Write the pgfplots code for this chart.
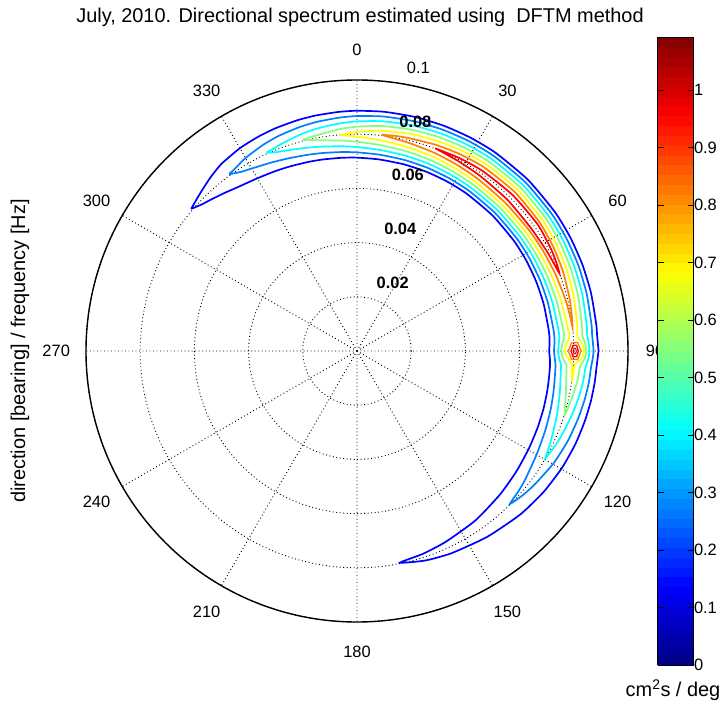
\documentclass[border=0pt]{standalone}
\usepackage{fontspec}
\setmainfont{Liberation Sans}
\usepackage{pgfplots}
\pgfplotsset{compat=1.18}
\usepgfplotslibrary{polar}
\definecolor{cA}{rgb}{0,0,1}
\definecolor{cB}{rgb}{0,0.5,1}
\definecolor{cC}{rgb}{0,1,1}
\definecolor{cD}{rgb}{0.5,1,0.5}
\definecolor{cE}{rgb}{1,1,0}
\definecolor{cF}{rgb}{1,0.5,0}
\definecolor{cG}{rgb}{1,0,0}
\definecolor{cH}{rgb}{0.85,0,0}
\newcommand\tl{\fontsize{16.5}{19}\selectfont}
\newcommand\bl{\fontsize{20}{23}\selectfont}
\pgfplotsset{cont/.style={line width=1.7bp, smooth, tension=0.35}}
\begin{document}
\begin{tikzpicture}
\path[use as bounding box] (0,0) rectangle (722bp,702bp);
\begin{polaraxis}[
  name=pa,
  at={(357bp,351bp)}, anchor=center,
  scale only axis, width=542bp, height=542bp,
  ymin=0, ymax=0.1,
  xtick={0,30,...,330},
  ytick={0.02,0.04,0.06,0.08,0.1},
  xticklabels={}, yticklabels={},
  grid=major,
  major grid style={black, line width=0.9bp, dash pattern=on 0.9bp off 2.6bp},
  separate axis lines,
  x axis line style={line width=1.4bp, black},
  y axis line style={draw=none},
  major tick length=0pt,
  clip=false,
  x filter/.expression={90-x},
  colormap/jet,
  point meta min=0, point meta max=1.092,
  colorbar sampled,
  colorbar style={
    scale only axis,
    width=36bp, height=628bp,
    at={(parent axis.north east)}, anchor=north west,
    xshift=21bp, yshift=43bp,
    samples=65,
    ytick={0,0.1,0.2,0.3,0.4,0.5,0.6,0.7,0.8,0.9,1},
    yticklabels={0,0.1,0.2,0.3,0.4,0.5,0.6,0.7,0.8,0.9,1},
    ytick pos=both, yticklabel pos=right,
    tick align=inside, major tick length=6bp,
    tick style={black, line width=0.8bp},
    axis line style={line width=0.8bp},
    yticklabel style={font=\tl, xshift=-3bp},
  },
]
% level 1
\addplot[cA, cont] table {
t f
-49.4 0.0806
-46.5 0.0815
-44 0.08236
-40 0.08389
-35.9 0.08526
-30 0.08642
-24.6 0.08708
-20 0.08753
-14.4 0.08796
-10 0.08822
-4.5 0.08848
0 0.08865
6.5 0.08884
14 0.08898
21.1 0.08908
28 0.08917
35 0.08924
45 0.08928
55 0.08924
62 0.08917
69 0.08908
76 0.08897
83.6 0.08884
86 0.08878
88 0.0889
90 0.0891
92 0.0888
94 0.08858
97.6 0.08848
102 0.08826
107.1 0.08796
113 0.0876
119.6 0.08708
127 0.0863
135 0.08526
145 0.08373
155 0.08236
162 0.0813
168.5 0.0797
162 0.0787
155 0.07764
145 0.07627
135 0.07474
127 0.0737
119.6 0.07292
113 0.0724
107.1 0.07204
102 0.07174
97.6 0.07152
94 0.07142
92 0.0712
90 0.0709
88 0.0711
86 0.07122
83.6 0.07116
76 0.07103
69 0.07092
62 0.07083
55 0.07076
45 0.07072
35 0.07076
28 0.07083
21.1 0.07092
14 0.07102
6.5 0.07116
0 0.07135
-4.5 0.07152
-10 0.07178
-14.4 0.07204
-20 0.07247
-24.6 0.07292
-30 0.07358
-35.9 0.07474
-40 0.07611
-44 0.07764
-46.5 0.0787
-49.4 0.0806
};
% level 2
\addplot[cB, cont] table {
t f
-35.9 0.0805
-33 0.08121
-30 0.08225
-24.6 0.08357
-20 0.08447
-14.4 0.08531
-10 0.08583
-4.5 0.08636
0 0.0867
6.5 0.08708
14 0.08736
21.1 0.08757
28 0.08775
35 0.08788
45 0.08796
55 0.08788
62 0.08775
69 0.08757
76 0.08734
83.6 0.08708
86 0.08697
88 0.0871
90 0.0873
92 0.0870
94 0.08657
97.6 0.08636
102 0.08591
107.1 0.08531
113 0.08459
119.6 0.08357
127 0.08199
131 0.08107
135 0.0798
131 0.07893
127 0.07801
119.6 0.07643
113 0.07541
107.1 0.07469
102 0.07409
97.6 0.07364
94 0.07343
92 0.0730
90 0.0727
88 0.0729
86 0.07303
83.6 0.07292
76 0.07266
69 0.07243
62 0.07225
55 0.07212
45 0.07204
35 0.07212
28 0.07225
21.1 0.07243
14 0.07264
6.5 0.07292
0 0.0733
-4.5 0.07364
-10 0.07417
-14.4 0.07469
-20 0.07553
-24.6 0.07643
-30 0.07775
-33 0.07879
-35.9 0.0805
};
% level 3
\addplot[cC, cont] table {
t f
-24.6 0.0805
-22 0.08084
-20 0.08138
-14.4 0.08264
-10 0.08343
-4.5 0.08422
0 0.08474
6.5 0.08531
14 0.08573
21.1 0.08604
28 0.08631
35 0.08651
45 0.08662
55 0.08651
62 0.08631
69 0.08604
76 0.0857
83.6 0.08531
86 0.08514
88 0.0855
90 0.0858
92 0.0854
94 0.08454
97.6 0.08422
102 0.08355
107.1 0.08264
113 0.08157
116 0.08092
119.6 0.0800
116 0.07908
113 0.07843
107.1 0.07736
102 0.07645
97.6 0.07578
94 0.07546
92 0.0746
90 0.0742
88 0.0745
86 0.07486
83.6 0.07469
76 0.0743
69 0.07396
62 0.07369
55 0.07349
45 0.07338
35 0.07349
28 0.07369
21.1 0.07396
14 0.07427
6.5 0.07469
0 0.07526
-4.5 0.07578
-10 0.07657
-14.4 0.07736
-20 0.07862
-22 0.07916
-24.6 0.0805
};
% level 4
\addplot[cD, cont] table {
t f
-14.4 0.0805
-10 0.08105
-4.5 0.0821
0 0.08279
6.5 0.08355
14 0.08411
21.1 0.08452
28 0.08488
35 0.08515
45 0.0853
55 0.08515
62 0.08488
69 0.08452
76 0.08407
83.6 0.08355
86 0.08332
88 0.0842
90 0.0846
92 0.0840
94 0.08252
97.6 0.0821
102 0.08121
107.1 0.0802
102 0.07879
97.6 0.0779
94 0.07748
92 0.0760
90 0.0754
88 0.0758
86 0.07668
83.6 0.07645
76 0.07593
69 0.07548
62 0.07512
55 0.07485
45 0.0747
35 0.07485
28 0.07512
21.1 0.07548
14 0.07589
6.5 0.07645
0 0.07721
-4.5 0.0779
-10 0.07895
-14.4 0.0805
};
% level 5
\addplot[cE, cont] table {
t f
-4.5 0.0799
0 0.08085
6.5 0.0818
14 0.08249
21.1 0.083
28 0.08345
35 0.08379
45 0.08398
55 0.08379
62 0.08345
69 0.083
76 0.08244
83.6 0.0818
86 0.08146
87.5 0.0825
88.5 0.0834
90 0.0838
91.5 0.0833
92.5 0.0822
93.5 0.08055
97.6 0.0801
93.5 0.07945
92.5 0.0785
91.5 0.0773
90 0.0768
88.5 0.0771
87.5 0.0778
86 0.07854
83.6 0.0782
76 0.07756
69 0.077
62 0.07655
55 0.07621
45 0.07602
35 0.07621
28 0.07655
21.1 0.077
14 0.07751
6.5 0.0782
0 0.07915
-4.5 0.0799
};
% level 6
\addplot[cF, cont] table {
t f
6.5 0.0803
10 0.08063
14 0.08086
21.1 0.08147
28 0.08201
35 0.08242
45 0.08264
55 0.08242
62 0.08201
69 0.08147
76 0.0808
80 0.0804
83.6 0.0800
80 0.0796
76 0.0792
69 0.07853
62 0.07799
55 0.07758
45 0.07736
35 0.07758
28 0.07799
21.1 0.07853
14 0.07914
10 0.07957
6.5 0.0803
};
\addplot[cF, line width=1.3bp] table {
t f
87.8 0.07918
87.8 0.08153
90 0.0827
92.2 0.08153
92.2 0.07918
90 0.078
87.8 0.07918
};
% level 7
\addplot[cG, cont] table {
t f
21.1 0.0802
28 0.0806
35 0.0810
45 0.0813
55 0.0814
62 0.0809
66 0.0805
69 0.0800
66 0.0795
62 0.0791
55 0.0786
45 0.0787
35 0.0790
28 0.0794
21.1 0.0802
};
\addplot[cG, line width=1.3bp] table {
t f
88.5 0.07968
88.5 0.08103
90 0.0817
91.5 0.08103
91.5 0.07968
90 0.079
88.5 0.07968
};
\addplot[cH, line width=1bp] table {
t f
89.3 0.08005
89.3 0.08065
90 0.08095
90.7 0.08065
90.7 0.08005
90 0.07975
89.3 0.08005
};
% angle labels (math angle = 90 - bearing)
\node[font=\tl] at (axis cs:90,0.111) {0};
\node[font=\tl] at (axis cs:60,0.111) {30};
\node[font=\tl] at (axis cs:30,0.111) {60};
\node[font=\tl] at (axis cs:-30,0.111) {120};
\node[font=\tl] at (axis cs:-60,0.111) {150};
\node[font=\tl] at (axis cs:-90,0.111) {180};
\node[font=\tl] at (axis cs:-120,0.111) {210};
\node[font=\tl] at (axis cs:-150,0.111) {240};
\node[font=\tl] at (axis cs:180,0.111) {270};
\node[font=\tl] at (axis cs:150,0.111) {300};
\node[font=\tl] at (axis cs:120,0.111) {330};
% radial labels
\node[font=\tl\bfseries, anchor=base west, inner sep=0pt, xshift=12bp, yshift=9bp] at (axis cs:82,0.02) {0.02};
\node[font=\tl\bfseries, anchor=base west, inner sep=0pt, xshift=12bp, yshift=9bp] at (axis cs:82,0.04) {0.04};
\node[font=\tl\bfseries, anchor=base west, inner sep=0pt, xshift=12bp, yshift=9bp] at (axis cs:82,0.06) {0.06};
\node[font=\tl\bfseries, anchor=base west, inner sep=0pt, xshift=12bp, yshift=9bp] at (axis cs:82,0.08) {0.08};
\node[font=\tl, anchor=base west, inner sep=0pt, xshift=12bp, yshift=9bp] at (axis cs:82,0.1) {0.1};
\end{polaraxis}
% the "90" label, partly covered by the colour bar as in the reference
\begin{scope}
\clip (0,0) rectangle (657bp,702bp);
\node[font=\tl] at (655bp,351bp) {90};
\end{scope}
\node[font=\bl] at (360bp,685bp) {July, 2010. Directional spectrum estimated using\ \ DFTM method};
\node[font=\bl, rotate=90] at (20bp,351bp) {direction [bearing] / frequency [Hz]};
\node[font=\bl] at (673bp,12bp) {cm\textsuperscript{2}s / deg};
\end{tikzpicture}
\end{document}
